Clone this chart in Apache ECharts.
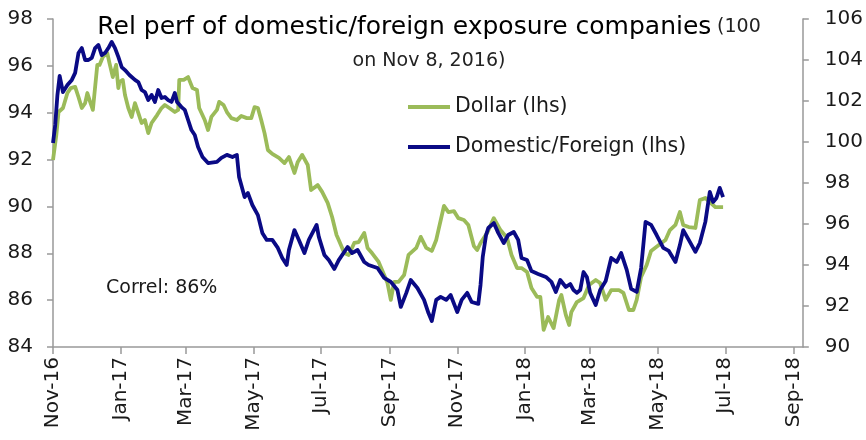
<!DOCTYPE html>
<html lang="en">
<head>
    <meta charset="UTF-8">
    <title>Rel perf of domestic/foreign exposure companies</title>
    <script src="https://cdn.jsdelivr.net/npm/echarts@6.0.0/dist/echarts.min.js"></script>
    <style>
        body { margin: 0; background: #fff; }
    </style>
</head>
<body>
    <div id="main" style="width: 866px;height:440px;"></div>

    <script type="text/javascript">
        // start of the index (100 on Nov 8, 2016); x data are days after this date
        var baseDate = '2016-11-08';

        var tickDates = ['2016-11-08', '2017-01-08', '2017-03-08', '2017-05-08', '2017-07-08', '2017-09-08',
            '2017-11-08', '2018-01-08', '2018-03-08', '2018-05-08', '2018-07-08', '2018-09-08'];
        var tickLabels = ['Nov-16', 'Jan-17', 'Mar-17', 'May-17', 'Jul-17', 'Sep-17',
            'Nov-17', 'Jan-18', 'Mar-18', 'May-18', 'Jul-18', 'Sep-18'];

        // Domestic/Foreign (navy)
        var domDays = [0, 2, 4, 6, 9, 13, 17, 20, 23, 26,
            29, 32, 35, 38, 41, 44, 47, 50, 53, 56,
            59, 62, 65, 69, 74, 77, 80, 83, 86, 89,
            92, 95, 98, 101, 104, 107, 110, 112, 116, 119,
            122, 125, 128, 131, 135, 140, 148, 152, 157, 162,
            166, 168, 173, 176, 180, 185, 189, 193, 198, 203,
            207, 211, 213, 218, 222, 227, 231, 238, 240, 245,
            249, 254, 258, 266, 270, 275, 281, 285, 293, 299,
            305, 311, 314, 319, 323, 329, 335, 339, 342, 346,
            350, 355, 359, 365, 369, 374, 378, 384, 386, 388,
            391, 393, 398, 402, 407, 411, 416, 420, 423, 428,
            432, 438, 445, 450, 454, 458, 463, 467, 470, 473,
            476, 479, 482, 485, 490, 494, 499, 504, 509, 513,
            518, 522, 527, 531, 535, 540, 545, 551, 556, 562,
            566, 569, 574, 580, 584, 589, 593, 596, 599, 602,
            605];
        var domVals = [92.71, 93.48, 94.76, 95.57, 94.88, 95.18, 95.40, 95.70, 96.55, 96.76,
            96.25, 96.25, 96.34, 96.76, 96.89, 96.46, 96.55, 96.76, 97.02, 96.76,
            96.38, 95.95, 95.82, 95.61, 95.40, 95.31, 94.97, 94.88, 94.54, 94.76,
            94.46, 94.97, 94.63, 94.67, 94.54, 94.46, 94.84, 94.46, 94.24, 94.12,
            93.69, 93.26, 93.05, 92.54, 92.11, 91.85, 91.90, 92.07, 92.20, 92.11,
            92.20, 91.26, 90.40, 90.57, 90.06, 89.63, 88.87, 88.57, 88.57, 88.23,
            87.80, 87.50, 88.14, 88.99, 88.57, 88.01, 88.57, 89.21, 88.70, 87.93,
            87.71, 87.33, 87.71, 88.27, 88.01, 88.14, 87.63, 87.50, 87.37, 86.95,
            86.78, 86.43, 85.71, 86.31, 86.86, 86.52, 86.01, 85.45, 85.11, 86.01,
            86.14, 86.01, 86.22, 85.49, 86.01, 86.31, 85.92, 85.84, 86.65, 87.84,
            88.78, 89.08, 89.29, 88.87, 88.44, 88.78, 88.91, 88.57, 87.80, 87.71,
            87.24, 87.12, 86.99, 86.78, 86.35, 86.86, 86.56, 86.69, 86.43, 86.31,
            86.43, 87.20, 86.99, 86.31, 85.79, 86.43, 86.82, 87.80, 87.63, 88.01,
            87.29, 86.48, 86.35, 87.37, 89.34, 89.21, 88.78, 88.23, 88.10, 87.63,
            88.35, 88.99, 88.57, 88.06, 88.44, 89.34, 90.62, 90.19, 90.36, 90.79,
            90.40];

        // Dollar (green)
        var usdDays = [0, 3, 5, 9, 13, 16, 20, 23, 26, 29,
            31, 33, 36, 40, 42, 45, 49, 51, 54, 57,
            59, 60, 63, 65, 68, 71, 74, 77, 80, 83,
            86, 89, 94, 98, 101, 105, 110, 113, 114, 118,
            122, 126, 130, 132, 137, 140, 143, 148, 150, 154,
            157, 161, 166, 170, 175, 179, 182, 185, 188, 191,
            194, 198, 204, 209, 213, 218, 221, 225, 230, 233,
            239, 243, 248, 252, 256, 258, 263, 267, 272, 276,
            281, 284, 288, 294, 299, 302, 305, 308, 312, 317,
            321, 328, 332, 337, 342, 346, 348, 353, 357, 362,
            366, 371, 375, 380, 383, 386, 392, 398, 404, 410,
            414, 419, 423, 428, 432, 437, 440, 443, 447, 452,
            457, 459, 463, 466, 468, 473, 479, 484, 490, 494,
            499, 504, 511, 515, 520, 524, 527, 531, 536, 540,
            547, 553, 557, 562, 566, 569, 574, 580, 584, 589,
            593, 598, 605];
        var usdVals = [91.98, 93.05, 94.03, 94.20, 94.84, 95.05, 95.10, 94.67, 94.20, 94.41,
            94.84, 94.54, 94.12, 96.04, 96.04, 96.38, 96.55, 96.12, 95.52, 96.04,
            95.05, 95.31, 95.40, 94.76, 94.20, 93.82, 94.41, 93.99, 93.56, 93.69,
            93.13, 93.56, 93.90, 94.20, 94.33, 94.20, 94.03, 94.12, 95.40, 95.40,
            95.52, 95.05, 94.97, 94.20, 93.69, 93.26, 93.82, 94.12, 94.46, 94.33,
            94.03, 93.77, 93.69, 93.86, 93.77, 93.77, 94.24, 94.20, 93.69, 93.13,
            92.41, 92.24, 92.07, 91.85, 92.11, 91.43, 91.90, 92.20, 91.77, 90.70,
            90.91, 90.62, 90.15, 89.55, 88.78, 88.57, 88.01, 87.93, 88.44, 88.48,
            88.87, 88.23, 88.01, 87.63, 87.07, 86.73, 86.01, 86.78, 86.78, 87.07,
            87.93, 88.23, 88.70, 88.23, 88.10, 88.57, 88.99, 90.02, 89.76, 89.80,
            89.50, 89.42, 89.21, 88.31, 88.14, 88.44, 88.87, 89.50, 88.99, 88.65,
            87.93, 87.37, 87.37, 87.20, 86.52, 86.14, 86.14, 84.73, 85.28, 84.81,
            86.01, 86.22, 85.37, 84.94, 85.49, 85.92, 86.09, 86.65, 86.86, 86.73,
            86.01, 86.43, 86.43, 86.31, 85.58, 85.58, 86.01, 86.99, 87.50, 88.10,
            88.35, 88.57, 88.99, 89.21, 89.76, 89.21, 89.12, 89.08, 90.27, 90.36,
            90.19, 89.97, 89.97];

        var fontName = 'DejaVu Sans';
        var textColor = '#1a1a1a';
        var axisColor = '#999999';

        function daysFromBase(d) {
            return Math.round((Date.parse(d) - Date.parse(baseDate)) / 86400000);
        }

        var tickDays = tickDates.map(daysFromBase);

        function pairs(xs, ys) {
            var out = [];
            for (var i = 0; i < xs.length; i++) {
                out.push([xs[i], ys[i]]);
            }
            return out;
        }

        var myChart = echarts.init(document.getElementById('main'));

        var option = {
            animation: false,
            backgroundColor: '#ffffff',
            textStyle: { fontFamily: fontName, color: textColor },
            title: {
                text: '{a|Rel perf of domestic/foreign exposure companies} {b|(100}\n{b|on Nov 8, 2016)}',
                left: 424,
                top: 5,
                textAlign: 'center',
                textStyle: {
                    fontWeight: 'normal',
                    rich: {
                        a: { fontFamily: fontName, fontSize: 25, fontWeight: 'normal', color: '#000', lineHeight: 34 },
                        b: { fontFamily: fontName, fontSize: 19, fontWeight: 'normal', color: '#222', lineHeight: 34 }
                    }
                }
            },
            legend: {
                orient: 'vertical',
                left: 403,
                top: 90,
                icon: 'rect',
                itemWidth: 42,
                itemHeight: 4,
                itemGap: 16,
                textStyle: { fontFamily: fontName, fontSize: 20.5, color: textColor, lineHeight: 24 },
                data: ['Dollar (lhs)', 'Domestic/Foreign (lhs)']
            },
            graphic: [{
                type: 'text',
                left: 106,
                top: 279,
                style: {
                    text: 'Correl: 86%',
                    fontFamily: fontName,
                    fontSize: 19,
                    fill: textColor
                }
            }],
            grid: { left: 53, right: 61, top: 19, bottom: 93 },
            xAxis: {
                type: 'value',
                min: 0,
                max: 677,
                splitLine: { show: false },
                axisLine: { lineStyle: { color: axisColor, width: 1.5 } },
                axisTick: { customValues: tickDays, length: 7, lineStyle: { color: axisColor, width: 1.5 } },
                axisLabel: {
                    customValues: tickDays,
                    rotate: 90,
                    margin: 10,
                    fontSize: 20,
                    color: textColor,
                    formatter: function (v) {
                        var i = tickDays.indexOf(v);
                        return i >= 0 ? tickLabels[i] : '';
                    }
                }
            },
            yAxis: [{
                type: 'value',
                position: 'left',
                min: 84,
                max: 98,
                interval: 2,
                splitLine: { show: false },
                axisLine: { show: true, lineStyle: { color: axisColor, width: 1.5 } },
                axisTick: { show: true, length: 6, lineStyle: { color: axisColor, width: 1.5 } },
                axisLabel: { fontSize: 20, color: textColor, margin: 20 }
            }, {
                type: 'value',
                position: 'right',
                min: 90,
                max: 106,
                interval: 2,
                alignTicks: false,
                splitLine: { show: false },
                axisLine: { show: true, lineStyle: { color: axisColor, width: 1.5 } },
                axisTick: { show: true, length: 6, lineStyle: { color: axisColor, width: 1.5 } },
                axisLabel: { fontSize: 20, color: textColor, margin: 22 }
            }],
            series: [{
                name: 'Dollar (lhs)',
                type: 'line',
                yAxisIndex: 0,
                symbol: 'none',
                color: '#9bbb59',
                lineStyle: { width: 3.8, join: 'round' },
                data: pairs(usdDays, usdVals)
            }, {
                name: 'Domestic/Foreign (lhs)',
                type: 'line',
                yAxisIndex: 0,
                symbol: 'none',
                color: '#0a0a85',
                lineStyle: { width: 3.8, join: 'round' },
                data: pairs(domDays, domVals)
            }]
        };

        myChart.setOption(option);
    </script>
</body>
</html>
